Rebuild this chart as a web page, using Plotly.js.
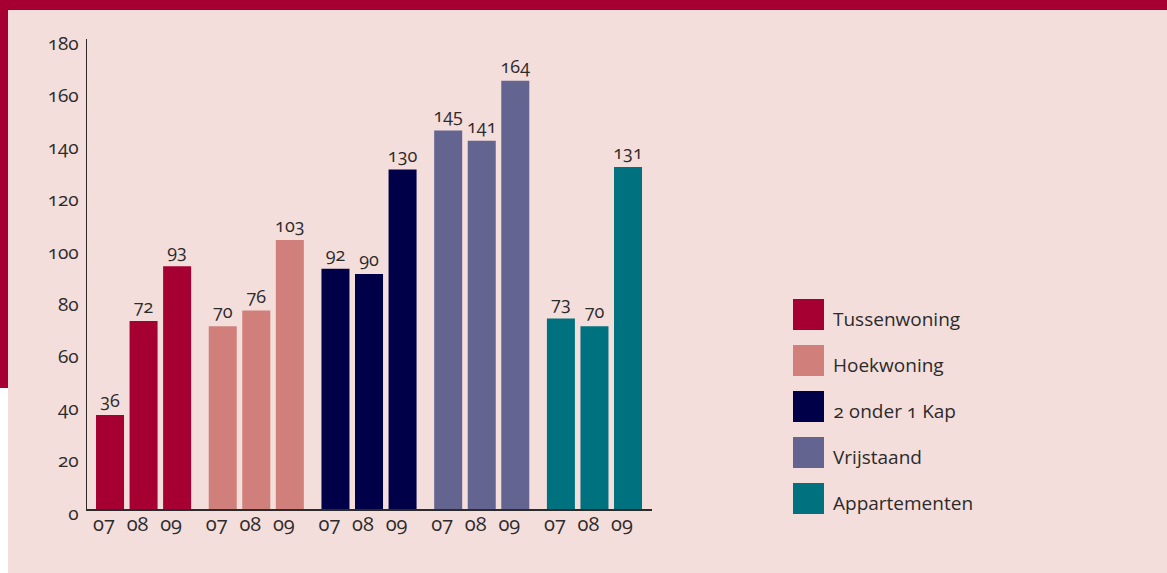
<!DOCTYPE html>
<html>
<head>
<meta charset="utf-8">
<script src="https://cdn.plot.ly/plotly-3.0.1.min.js"></script>
<style>
  html, body { margin: 0; padding: 0; width: 1167px; height: 573px; overflow: hidden; background: #f3dedb; }
  #frame-top { position: absolute; left: 0; top: 0; width: 1167px; height: 10px; background: #a60032; }
  #frame-left { position: absolute; left: 0; top: 0; width: 8px; height: 388px; background: #a60032; }
  #frame-white { position: absolute; left: 0; top: 388px; width: 8px; height: 185px; background: #ffffff; }
  #chart { position: absolute; left: 0; top: 0; width: 1167px; height: 573px; }
  #chart text { font-variant-numeric: oldstyle-nums; font-feature-settings: "onum" 1; }
</style>
</head>
<body>
<div id="frame-top"></div>
<div id="frame-left"></div>
<div id="frame-white"></div>
<div id="chart"></div>
<script>
// ---- data ----
const seriesNames = ["Tussenwoning", "Hoekwoning", "2 onder 1 Kap", "Vrijstaand", "Appartementen"];
const years = ["07", "08", "09"];
const tussenwoning = [36, 72, 93];
const hoekwoning = [70, 76, 103];
const tweeOnder1Kap = [92, 90, 130];
const vrijstaand = [145, 141, 164];
const appartementen = [73, 70, 131];
const seriesValues = [tussenwoning, hoekwoning, tweeOnder1Kap, vrijstaand, appartementen];
const seriesColors = ["#a60032", "#d17f7b", "#000048", "#636590", "#00727f"];

// ---- layout helpers ----
const groupStep = 3.36;
const barWidth = 0.835;
const textColor = "#2d2a2b";
const fontFam = "'Open Sans', 'Liberation Sans', sans-serif";

const traces = [];
const tickvals = [];
const ticktext = [];
seriesValues.forEach((vals, g) => {
  const xs = vals.map((v, j) => g * groupStep + j);
  xs.forEach((x, j) => { tickvals.push(x); ticktext.push(years[j]); });
  traces.push({
    type: "bar",
    name: seriesNames[g],
    x: xs,
    y: vals,
    width: vals.map(() => barWidth),
    marker: { color: seriesColors[g], line: { width: 0 } },
    text: vals.map(String),
    textposition: "outside",
    textfont: { family: fontFam, size: 18, color: textColor },
    constraintext: "none",
    cliponaxis: false,
    hoverinfo: "skip",
    showlegend: false
  });
});

// plot area in pixels
const L = 87, R = 652, T = 39, B = 509;
const W = 1167, H = 573;
const px2x = p => (p - L) / (R - L);
const px2y = p => (B - p) / (B - T);

const shapes = [];
const annotations = [];
seriesNames.forEach((name, i) => {
  const top = 299 + i * 46;
  shapes.push({
    type: "rect", xref: "paper", yref: "paper",
    x0: px2x(793), x1: px2x(824), y0: px2y(top + 31), y1: px2y(top),
    fillcolor: seriesColors[i], line: { width: 0 }
  });
  annotations.push({
    xref: "paper", yref: "paper",
    x: px2x(831), y: px2y(top + 20),
    xanchor: "left", yanchor: "middle",
    text: name, showarrow: false,
    font: { family: fontFam, size: 19, color: textColor }
  });
});

const layout = {
  width: W, height: H,
  margin: { l: L, r: W - R, t: T, b: H - B, pad: 0 },
  paper_bgcolor: "rgba(0,0,0,0)",
  plot_bgcolor: "rgba(0,0,0,0)",
  barmode: "overlay",
  showlegend: false,
  font: { family: fontFam, color: textColor },
  xaxis: {
    range: [-0.686, 4 * groupStep + 2 + 0.715],
    tickvals: tickvals, ticktext: ticktext,
    showgrid: false, zeroline: false,
    showline: true, linecolor: "#2d2a2b", linewidth: 2,
    ticks: "", ticklabelshift: -6, ticklabelstandoff: -4,
    tickfont: { family: fontFam, size: 20, color: textColor },
    fixedrange: true
  },
  yaxis: {
    range: [0, 180],
    tickvals: [0, 20, 40, 60, 80, 100, 120, 140, 160, 180],
    showgrid: false, zeroline: false,
    showline: true, linecolor: "#2d2a2b", linewidth: 1.5,
    ticks: "", ticklabelstandoff: 3, ticklabelshift: 4,
    tickfont: { family: fontFam, size: 19, color: textColor },
    fixedrange: true
  },
  shapes: shapes,
  annotations: annotations
};

Plotly.newPlot("chart", traces, layout, { displayModeBar: false, staticPlot: true });
</script>
</body>
</html>
